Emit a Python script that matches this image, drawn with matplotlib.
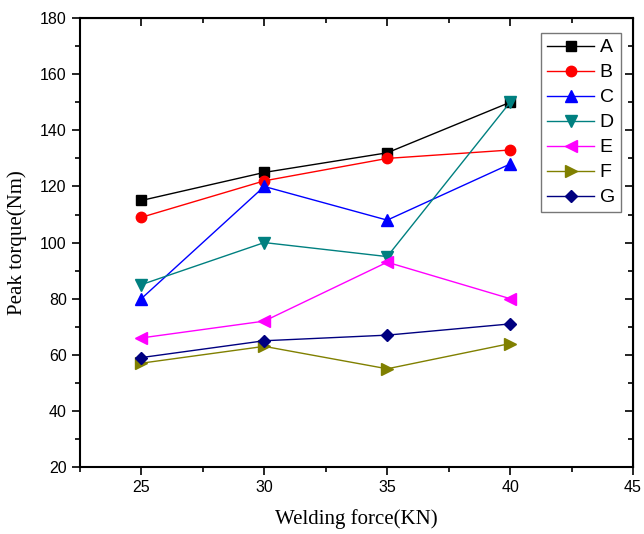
import matplotlib
matplotlib.use('Agg')
import matplotlib.pyplot as plt
from matplotlib.ticker import MultipleLocator

# data
force = [25, 30, 35, 40]
A = [115, 125, 132, 150]
B = [109, 122, 130, 133]
C = [80, 120, 108, 128]
D = [85, 100, 95, 150]
E = [66, 72, 93, 80]
F = [57, 63, 55, 64]
G = [59, 65, 67, 71]

series = [('A', A, 'black', 's'), ('B', B, 'red', 'o'), ('C', C, 'blue', '^'),
          ('D', D, '#008080', 'v'), ('E', E, 'magenta', '<'),
          ('F', F, '#808000', '>'), ('G', G, '#000080', 'D')]

fig = plt.figure(figsize=(6.44, 5.34), dpi=100)
ax = fig.add_axes([0.124, 0.1255, 0.859, 0.8405])

for name, vals, c, m in series:
    ms = {'s': 7, 'o': 7.5, 'D': 6.5}.get(m, 8)
    ax.plot(force, vals, color=c, marker=m, markersize=ms, lw=1, label=name)

ax.set_xlim(22.5, 45)
ax.set_ylim(20, 180)
ax.xaxis.set_major_locator(MultipleLocator(5))
ax.xaxis.set_minor_locator(MultipleLocator(2.5))
ax.yaxis.set_major_locator(MultipleLocator(20))
ax.yaxis.set_minor_locator(MultipleLocator(10))
ax.tick_params(which='both', direction='out', top=False, right=False, width=1.2)
ax.tick_params(which='major', length=6, labelsize=11.5)
ax.tick_params(which='minor', length=3.5)
for lab in ax.get_xticklabels() + ax.get_yticklabels():
    lab.set_fontfamily('Liberation Sans')
for s in ax.spines.values():
    s.set_linewidth(1.5)

# inward ticks on top and right
tx = ax.secondary_xaxis('top')
tx.xaxis.set_major_locator(MultipleLocator(5))
tx.xaxis.set_minor_locator(MultipleLocator(2.5))
tx.tick_params(which='both', direction='in', labeltop=False, width=1.2)
tx.tick_params(which='major', length=6)
tx.tick_params(which='minor', length=3.5)
ry = ax.secondary_yaxis('right')
ry.yaxis.set_major_locator(MultipleLocator(20))
ry.yaxis.set_minor_locator(MultipleLocator(10))
ry.tick_params(which='both', direction='in', labelright=False, width=1.2)
ry.tick_params(which='major', length=6)
ry.tick_params(which='minor', length=3.5)

ax.set_xlabel('Welding force(KN)', fontfamily='Liberation Serif', fontsize=15, labelpad=10)
ax.set_ylabel('Peak torque(Nm)', fontfamily='Liberation Serif', fontsize=15, labelpad=9)

leg = ax.legend(loc='upper right', bbox_to_anchor=(0.978, 0.967), fancybox=False,
                edgecolor='#555555', prop={'family': 'Liberation Sans', 'size': 14},
                handlelength=2.4, labelspacing=0.38, borderpad=0.3, handletextpad=0.3,
                borderaxespad=0)
leg.get_frame().set_linewidth(1.0)

plt.savefig('out.png', dpi=100)
